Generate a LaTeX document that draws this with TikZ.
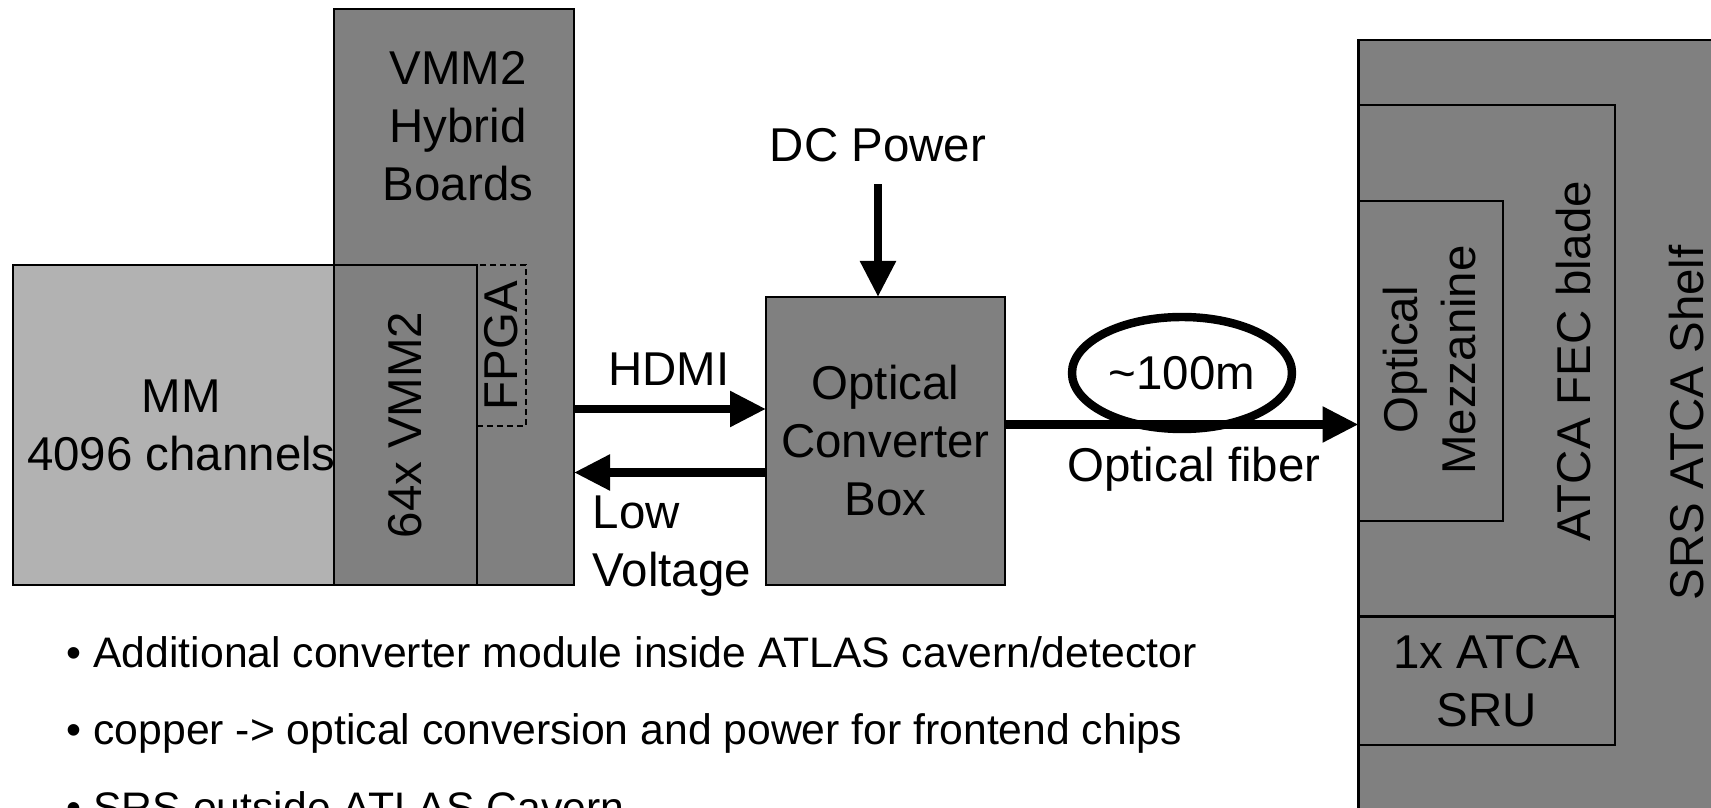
\documentclass[tikz,border=0pt]{standalone}
\usepackage{fontspec}
\setmainfont{Liberation Sans}
\usetikzlibrary{arrows.meta,shapes.geometric,positioning}
\definecolor{BoardGray}{HTML}{808080}
\definecolor{DetectorGray}{HTML}{B2B2B2}
\tikzset{
  every node/.style={font=\fontsize{13.5}{16.5}\selectfont, text=black},
  block/.style={draw=black, line width=0.6pt, fill=BoardGray, anchor=south west, inner sep=0pt, outer sep=0pt},
  chip/.style={draw=black, line width=0.6pt, dash pattern=on 0.6mm off 0.4mm, anchor=south west, inner sep=0pt, outer sep=0pt},
  wire/.style={-{Triangle[length=3.6mm,width=3.4mm]}, draw=black, line width=2.4pt},
  looprim/.style={ellipse, draw=black, line width=2.4pt, minimum width=2.2cm, minimum height=1.12cm, inner sep=0pt},
  note/.style={anchor=base west, inner sep=0pt, font=\fontsize{12.15}{14.5}\selectfont},
}

\begin{document}
\begin{tikzpicture}[x=1cm,y=1cm]
  \path[use as bounding box, clip] (0,0) rectangle (17.11,8.08);

  % Detector with its front-end boards
  \node[block, fill=DetectorGray, minimum width=3.37cm, minimum height=3.2cm] (mm) at (0.13,2.23) {};
  \node[align=center] (mmtext) at (mm.center) {MM\\4096 channels};
  \node[block, minimum width=2.4cm, minimum height=5.76cm] (hybrid) at (3.34,2.23) {};
  \node[align=center] (hybridtext) at (4.58,6.82) {VMM2\\Hybrid\\Boards};
  \node[block, minimum width=1.43cm, minimum height=3.2cm] (vmm) at (3.34,2.23) {};
  \node[rotate=90] (vmmtext) at (vmm.center) {64x VMM2};
  \node[chip, minimum width=0.49cm, minimum height=1.61cm] (fpga) at (4.77,3.82) {};
  \node[rotate=90] (fpgatext) at (fpga.center) {FPGA};

  % Converter box and its links
  \node[block, minimum width=2.39cm, minimum height=2.88cm] (conv) at (7.66,2.23) {};
  \node[align=center] (convtext) at (conv.center) {Optical\\Converter\\Box};
  \node (dc) at (8.78,6.63) {DC Power};
  \draw[wire] ([yshift=-1mm]dc.south) -- (dc.south |- conv.north);
  \draw[wire] ([yshift=3.2mm]conv.west -| hybrid.east) -- ([yshift=3.2mm]conv.west);
  \node (hdmi) at (6.69,4.39) {HDMI};
  \draw[wire] ([yshift=-3.15mm]conv.west) -- ([yshift=-3.15mm]conv.west -| hybrid.east);
  \node[align=left, anchor=west, inner sep=0pt] (lv) at (5.92,2.62) {Low\\Voltage};

  % SRS crate
  \node[block, anchor=north west, minimum width=4cm, minimum height=8.2cm] (shelf) at (13.585,7.68) {};
  \node[rotate=90] (shelftext) at (16.87,3.85) {SRS ATCA Shelf};
  \node[block, anchor=north west, minimum width=2.565cm, minimum height=5.115cm] (fec) at (13.585,7.03) {};
  \node[rotate=90] (fectext) at (15.74,4.47) {ATCA FEC blade};
  \node[block, anchor=north west, minimum width=1.445cm, minimum height=3.2cm] (mezz) at (13.585,6.07) {};
  \node[rotate=90, align=center] (mezztext) at (14.30,4.48) {Optical\\Mezzanine};
  \node[block, anchor=north west, minimum width=2.565cm, minimum height=1.285cm] (sru) at (13.585,1.915) {};
  \node[align=center] (srutext) at (sru.center) {1x ATCA\\SRU};

  % Fiber to the crate
  \draw[wire] ([yshift=1.65mm]conv.east) -- ([yshift=1.65mm]conv.east -| shelf.west);
  \node[looprim] (loop) at (11.82,4.35) {\textasciitilde100m};
  \node (fiber) at (11.94,3.385) {Optical fiber};

  % Notes below
  \node[note] (note1) at (0.66,1.40) {\textbullet\ Additional converter module inside ATLAS cavern/detector};
  \node[note] (note2) at (0.66,0.63) {\textbullet\ copper -> optical conversion and power for frontend chips};
  \node[note] (note3) at (0.66,-0.14) {\textbullet\ SRS outside ATLAS Cavern};
\end{tikzpicture}
\end{document}
